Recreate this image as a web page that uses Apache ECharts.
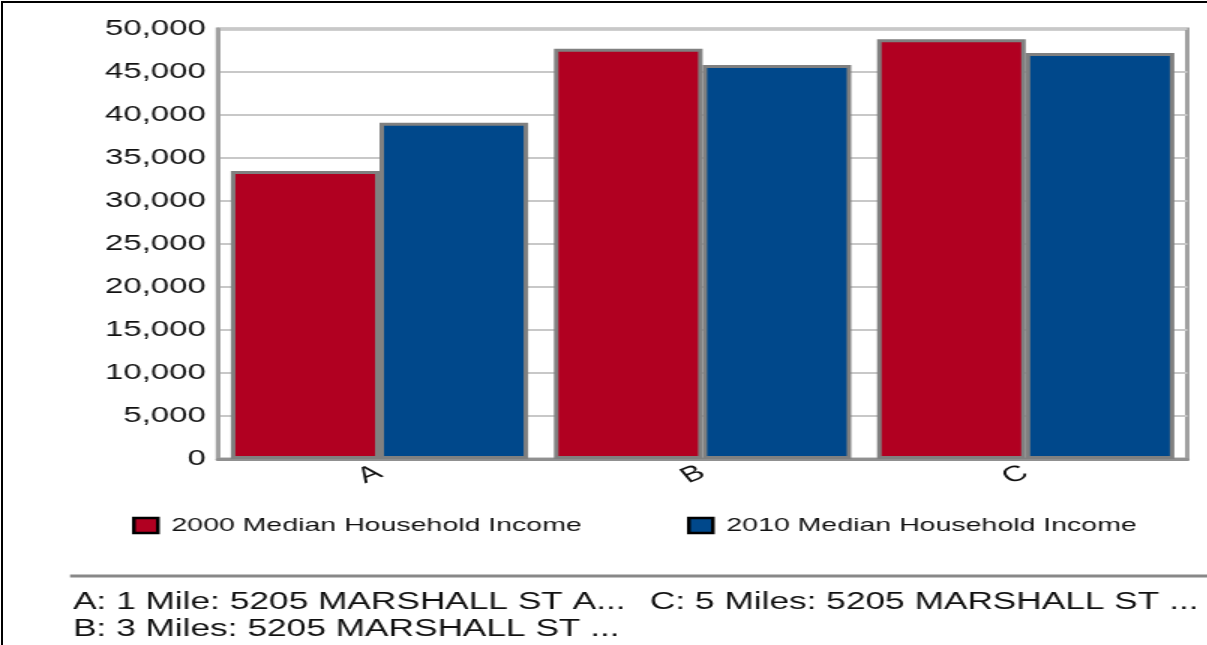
<!DOCTYPE html>
<html><head><meta charset="utf-8">
<script src="https://cdn.jsdelivr.net/npm/echarts@6/dist/echarts.min.js"></script>
<style>
html,body{margin:0;padding:0;width:1207px;height:645px;overflow:hidden;background:#fff}
#chart{position:absolute;left:0;top:0;width:805px;height:645px;transform:scaleX(1.5);transform-origin:0 0}
#frame{position:absolute;left:1px;top:1px;width:1220px;height:660px;border-left:2px solid #000;border-top:2px solid #000;pointer-events:none}
</style></head>
<body>
<div id="chart"></div>
<div id="frame"></div>
<script>
const categories = ['A', 'B', 'C'];
const seriesNames = ['2000 Median Household Income', '2010 Median Household Income'];
const income2000 = [33500, 47700, 48800];
const income2010 = [39100, 45800, 47200];
const yTicks = {min: 0, max: 50000, interval: 5000};
const footnotes = [
  'A: 1 Mile: 5205 MARSHALL ST A...',
  'C: 5 Miles: 5205 MARSHALL ST ...',
  'B: 3 Miles: 5205 MARSHALL ST ...'
];

const FONT = '"Liberation Sans", Arial, sans-serif';
const chart = echarts.init(document.getElementById('chart'), null, {renderer: 'canvas'});
const fmt = v => String(v).replace(/\B(?=(\d{3})+(?!\d))/g, ',');

const legendBase = {
  top: 516, padding: 0, itemWidth: 16, itemHeight: 15, icon: 'rect',
  itemStyle: {borderColor: '#000', borderWidth: 2.5},
  textStyle: {fontSize: 19, color: '#111', fontFamily: FONT, padding: [0, 0, 0, 4]}
};

chart.setOption({
  animation: false,
  textStyle: {fontFamily: FONT},
  grid: {left: 145.3, right: 13.5, top: 29, bottom: 186, show: true, borderColor: '#a0a0a0', borderWidth: 3, containLabel: false},
  legend: [
    Object.assign({}, legendBase, {left: 88, data: [seriesNames[0]]}),
    Object.assign({}, legendBase, {left: 458, data: [seriesNames[1]]})
  ],
  xAxis: {
    type: 'category', data: categories,
    axisLine: {lineStyle: {color: '#909090', width: 3}},
    axisTick: {show: false},
    axisLabel: {fontSize: 22, color: '#111', rotate: 30, margin: 12, fontFamily: FONT}
  },
  yAxis: {
    type: 'value', min: yTicks.min, max: yTicks.max, interval: yTicks.interval,
    axisLine: {show: true, lineStyle: {color: '#a0a0a0', width: 3}},
    axisTick: {show: false},
    splitLine: {lineStyle: {color: '#c8c8c8', width: 2}},
    axisLabel: {fontSize: 22, color: '#111', margin: 8, formatter: fmt, fontFamily: FONT}
  },
  series: [
    {name: seriesNames[0], type: 'bar', data: income2000, barGap: '0%', barCategoryGap: '8%',
     itemStyle: {color: '#B10021', borderColor: '#808080', borderWidth: 3}},
    {name: seriesNames[1], type: 'bar', data: income2010, barGap: '0%', barCategoryGap: '8%',
     itemStyle: {color: '#00488B', borderColor: '#808080', borderWidth: 3}}
  ],
  graphic: [
    {type: 'line', shape: {x1: 46.7, y1: 576, x2: 805, y2: 576}, style: {stroke: '#888', lineWidth: 3}},
    {type: 'text', left: 48.7, top: 591, style: {text: footnotes[0], font: '23.5px ' + FONT, fill: '#111'}},
    {type: 'text', left: 433.3, top: 591, style: {text: footnotes[1], font: '23.5px ' + FONT, fill: '#111'}},
    {type: 'text', left: 48.7, top: 618, style: {text: footnotes[2], font: '23.5px ' + FONT, fill: '#111'}}
  ]
});
</script>
</body></html>
